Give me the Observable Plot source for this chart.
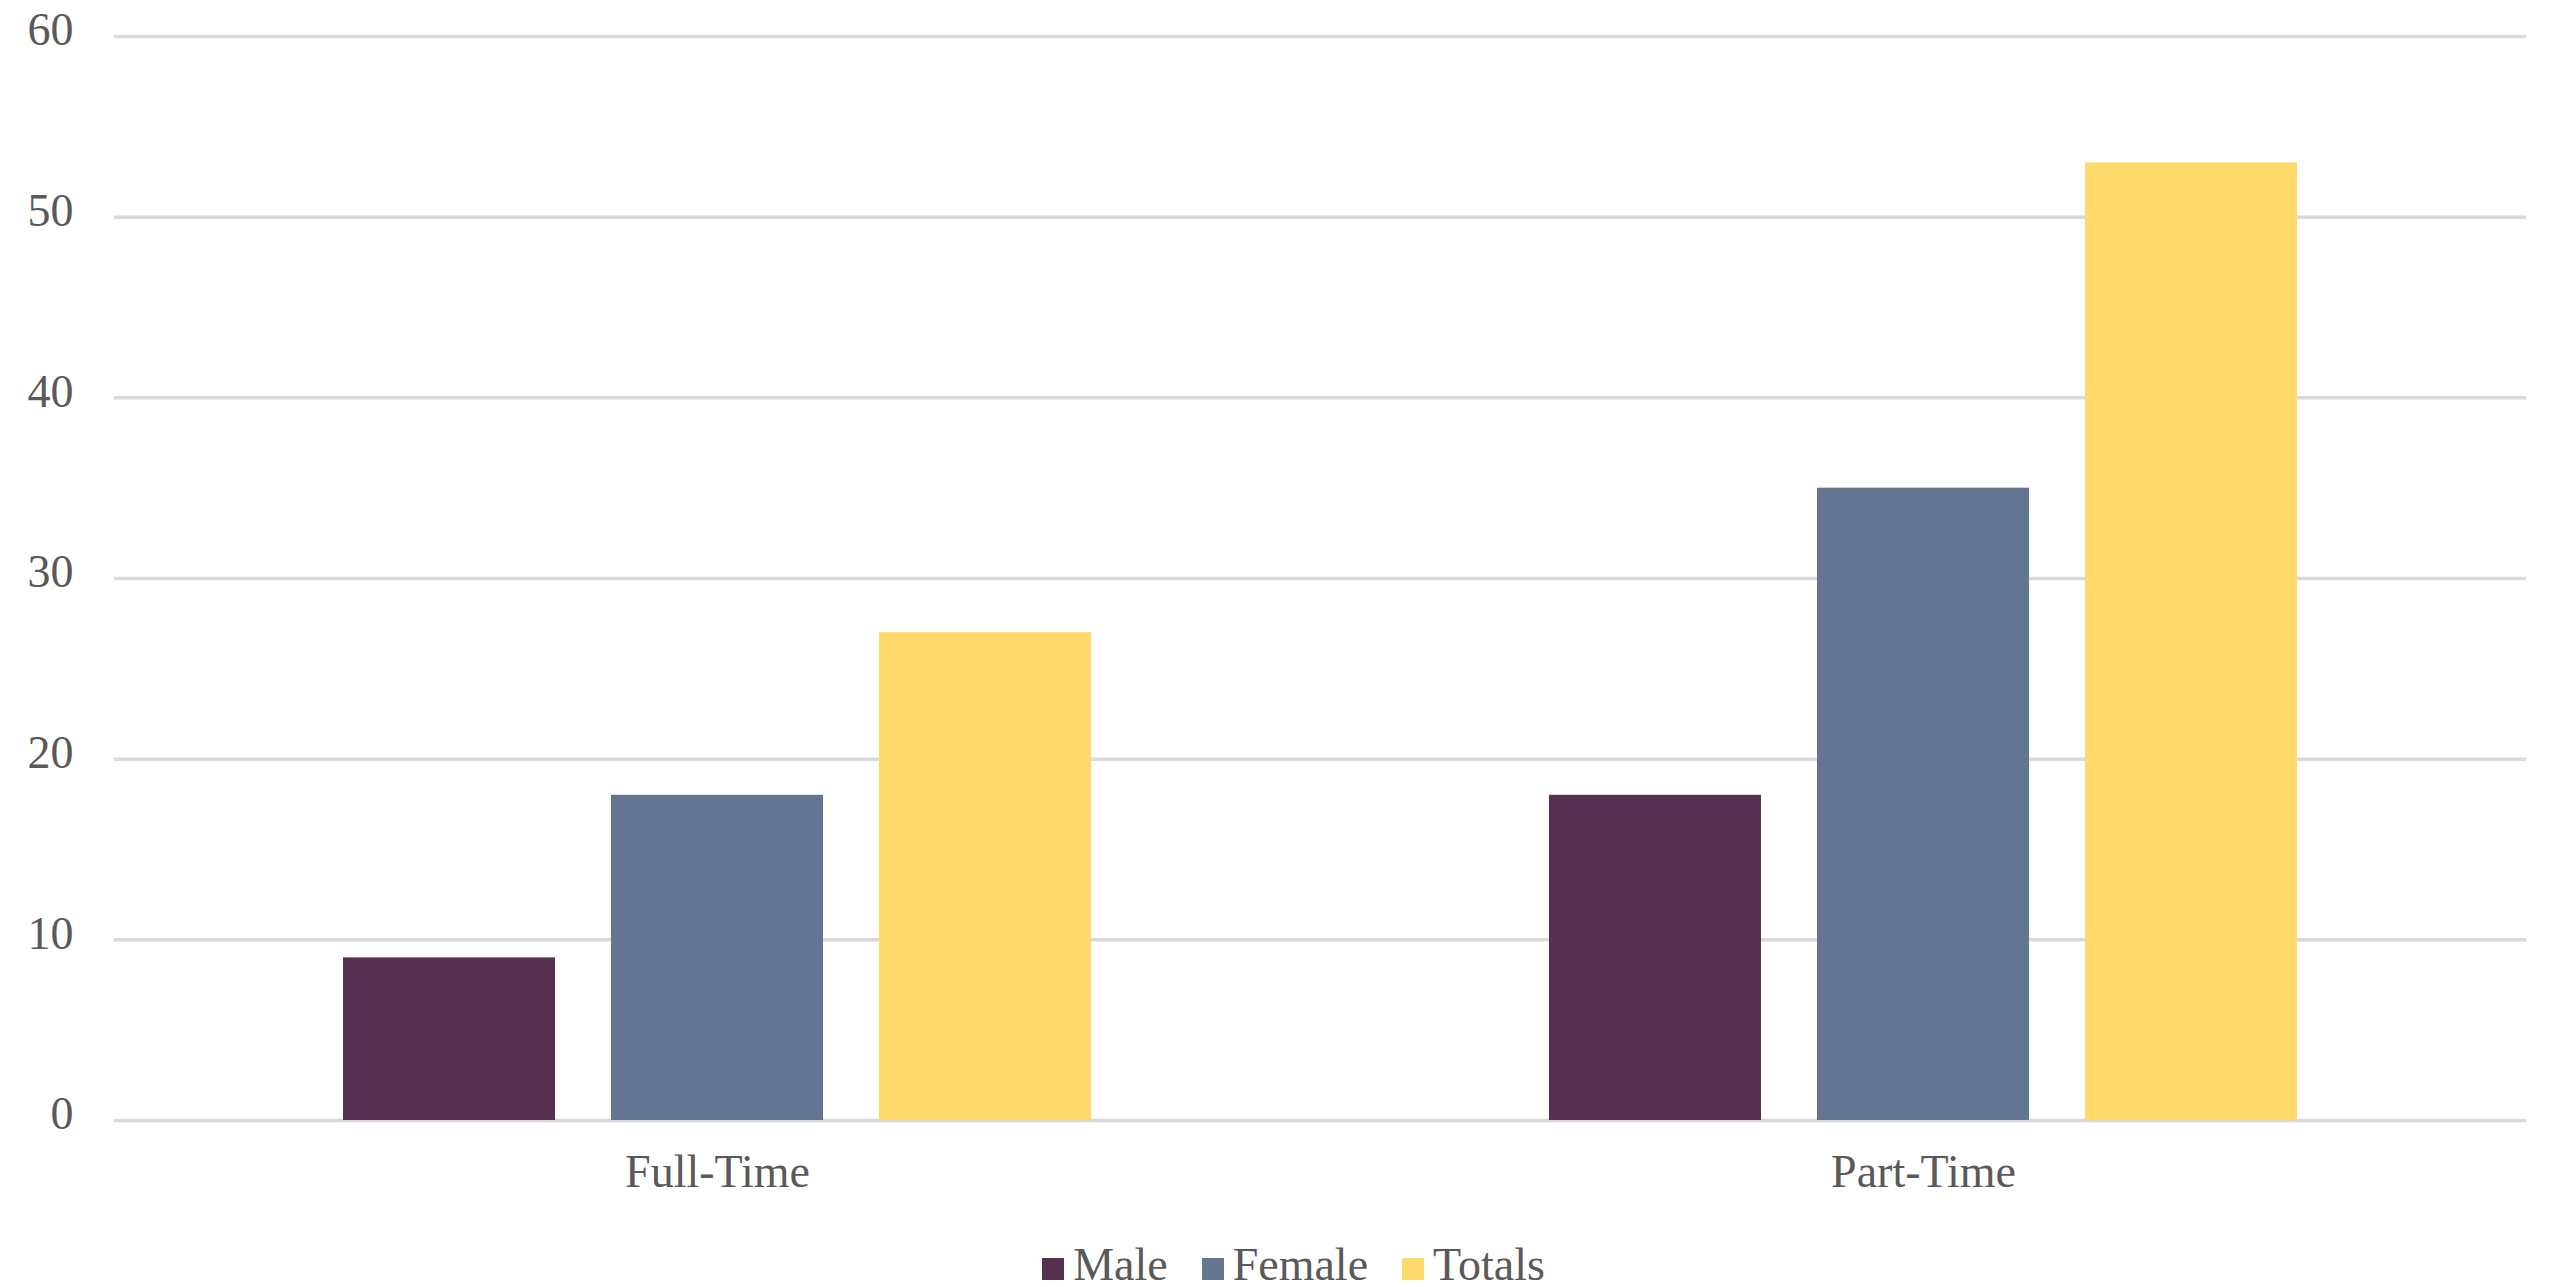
<!DOCTYPE html>
<html>
<head>
<meta charset="utf-8">
<script src="https://cdn.jsdelivr.net/npm/d3@7"></script>
<script src="https://cdn.jsdelivr.net/npm/@observablehq/plot@0.6"></script>
<style>
  html, body { margin: 0; padding: 0; background: #ffffff; }
  #chart svg { display: block; }
  #legend {
    width: 2551px; height: 77px; box-sizing: border-box;
    display: flex; justify-content: center; align-items: center;
    padding-left: 36px; padding-top: 32px;
    font-family: "Liberation Serif", "Times New Roman", serif;
    font-size: 46px; color: #595959;
  }
  .item { display: flex; align-items: center; margin: 0 17px; }
  .sw { width: 22px; height: 22px; margin-right: 9px; margin-top: 8px; }
</style>
</head>
<body>
<div id="chart"></div>
<div id="legend"></div>
<script>
const categories = ["Full-Time", "Part-Time"];
const series = ["Male", "Female", "Totals"];
const male = [9, 18];
const female = [18, 35];
const totals = [27, 53];
const colors = ["#55304F", "#647592", "#FFD96A"];
const yTicks = [0, 10, 20, 30, 40, 50, 60];

const values = [male, female, totals];
const data = categories.flatMap((c, i) =>
  series.map((s, j) => ({category: c, series: s, value: values[j][i]}))
);

const chart = Plot.plot({
  width: 2551,
  height: 1210,
  marginTop: 36,
  marginBottom: 90,
  marginLeft: 114,
  marginRight: 25,
  style: {
    fontFamily: "'Liberation Serif', 'Times New Roman', serif",
    fontSize: "46px",
    color: "#595959",
    background: "#ffffff"
  },
  fx: {domain: categories, padding: 0, label: null},
  x: {domain: series, paddingInner: 0.21, paddingOuter: 0.85, axis: null},
  y: {domain: [0, 60], label: null},
  color: {domain: series, range: colors},
  marks: [
    Plot.ruleY(yTicks, {stroke: "#D9D9D9", strokeWidth: 3.5}),
    Plot.barY(data, {fx: "category", x: "series", y: "value", fill: "series"}),
    Plot.axisY(yTicks, {tickSize: 0, tickPadding: 41, dy: -6, label: null, fill: "#595959"}),
    Plot.axisFx({anchor: "bottom", tickSize: 0, tickPadding: 34, label: null, fill: "#595959"})
  ]
});
document.getElementById("chart").appendChild(chart);

const legend = document.getElementById("legend");
series.forEach((s, i) => {
  const item = document.createElement("div");
  item.className = "item";
  const sw = document.createElement("span");
  sw.className = "sw";
  sw.style.background = colors[i];
  const t = document.createElement("span");
  t.textContent = s;
  item.appendChild(sw);
  item.appendChild(t);
  legend.appendChild(item);
});
</script>
</body>
</html>
